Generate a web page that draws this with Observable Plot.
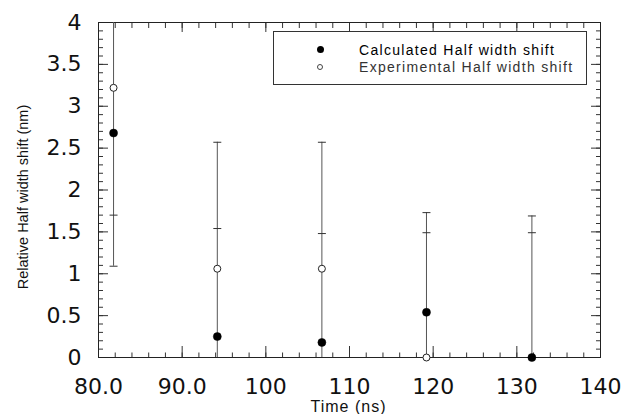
<!DOCTYPE html>
<html>
<head>
<meta charset="utf-8">
<script src="https://cdn.jsdelivr.net/npm/d3@7"></script>
<script src="https://cdn.jsdelivr.net/npm/@observablehq/plot@0.6"></script>
<style>
  body { margin: 0; background: #fff; }
  #wrap { position: relative; width: 633px; height: 414px; }
  #wrap svg { position: absolute; left: 0; top: 0; overflow: visible; }
  .legend { position: absolute; left: 273px; top: 31px; width: 312px; height: 52px;
            border: 1px solid #333; background: #fff;
            font-family: "Liberation Sans", Arial, sans-serif; font-size: 14px; letter-spacing: 1.3px; }
  .row { position: absolute; left: 85px; height: 16px; line-height: 16px; white-space: nowrap; }
  .sym { position: absolute; box-sizing: border-box; border-radius: 50%; }
</style>
</head>
<body>
<div id="wrap"></div>
<script>
// ---- data ----
const times        = [81.8, 94.2, 106.7, 119.2, 131.8];
const calculated   = [2.68, 0.25, 0.18, 0.54, 0.0];
const experimental = [3.22, 1.06, 1.06, 0.0, null];
const errLow       = [1.09, 0, 0, 0, 0];
const errHigh      = [4.5, 2.57, 2.57, 1.73, 1.69];
const errMid       = [1.70, 1.54, 1.48, 1.49, 1.49];

const xTicks      = [80, 90, 100, 110, 120, 130, 140];
const xTickLabels = ["80.0", "90.0", "100", "110", "120", "130", "140"];
const yTicks      = [0, 0.5, 1, 1.5, 2, 2.5, 3, 3.5, 4];
const yTickLabels = ["0", "0.5", "1", "1.5", "2", "2.5", "3", "3.5", "4"];
const xMinorTicks = d3.range(80, 141, 2);
const yMinorTicks = d3.range(0, 41).map(i => i / 10);

const seriesNames = ["Calculated Half width shift", "Experimental Half width shift"];
const xLabel = "Time (ns)";
const yLabel = "Relative Half width shift (nm)";

// ---- table built from arrays ----
const rows = times.map((t, i) => ({
  t, calc: calculated[i], exp: experimental[i], lo: errLow[i], hi: errHigh[i], mid: errMid[i]
}));
const expRows = rows.filter(d => d.exp != null);

const capSymbol = {
  draw(context, size) {
    const w = Math.sqrt(size);
    context.moveTo(-w / 2, 0);
    context.lineTo(w / 2, 0);
  }
};

const tickColor = "#333";
const ff = "Liberation Sans, Arial, sans-serif";

const chart = Plot.plot({
  width: 633,
  height: 414,
  marginLeft: 98,
  marginRight: 33,
  marginTop: 22,
  marginBottom: 57,
  style: { background: "transparent" },
  x: { domain: [80, 140] },
  y: { domain: [0, 4] },
  marks: [
    // minor & major ticks pointing inward on all four sides
    Plot.axisX(xMinorTicks, { anchor: "bottom", tickSize: -4.5, fill: "none", stroke: tickColor, label: null }),
    Plot.axisX(xTicks, { anchor: "bottom", tickSize: -11, fill: "none", stroke: tickColor, label: null }),
    Plot.axisX(xMinorTicks, { anchor: "top", tickSize: -5, fill: "none", stroke: tickColor, label: null }),
    Plot.axisX(xTicks, { anchor: "top", tickSize: -9, fill: "none", stroke: tickColor, label: null }),
    Plot.axisY(yMinorTicks, { anchor: "left", tickSize: -5, fill: "none", stroke: tickColor, label: null }),
    Plot.axisY(yTicks, { anchor: "left", tickSize: -10, fill: "none", stroke: tickColor, label: null }),
    Plot.axisY(yMinorTicks, { anchor: "right", tickSize: -5, fill: "none", stroke: tickColor, label: null }),
    Plot.axisY(yTicks, { anchor: "right", tickSize: -10, fill: "none", stroke: tickColor, label: null }),
    // tick labels
    Plot.axisX(xTicks, { anchor: "bottom", tickSize: 0, tickPadding: 21, fontSize: 22, fontFamily: "DejaVu Sans",
      tickFormat: d => xTickLabels[xTicks.indexOf(d)], label: null, fill: "#111" }),
    Plot.axisY(yTicks, { anchor: "left", tickSize: 0, tickPadding: 17, fontSize: 22, fontFamily: "DejaVu Sans",
      tickFormat: d => yTickLabels[yTicks.indexOf(d)], label: null, fill: "#111" }),
    Plot.frame({ stroke: "#222", strokeWidth: 1 }),
    // axis titles
    Plot.text([xLabel], { frameAnchor: "bottom", textAnchor: "middle", lineAnchor: "middle", dx: -1, dy: 49,
      fontSize: 16, fontFamily: ff, fill: "#111" }),
    Plot.text([yLabel], { frameAnchor: "left", textAnchor: "middle", lineAnchor: "middle", dx: -75, dy: 7, rotate: -90,
      fontSize: 14.5, fontFamily: ff, fill: "#111" }),
    // error bars
    Plot.ruleX(rows, { x: "t", y1: "lo", y2: "hi", stroke: "#555", strokeWidth: 1, clip: true }),
    Plot.dot(rows, { x: "t", y: "hi", symbol: capSymbol, r: 4.5, stroke: "#333", fill: "none", strokeWidth: 1, clip: true }),
    Plot.dot(rows.filter(d => d.lo > 0), { x: "t", y: "lo", symbol: capSymbol, r: 4.5, stroke: "#333", fill: "none", strokeWidth: 1 }),
    Plot.dot(rows, { x: "t", y: "mid", symbol: capSymbol, r: 4.5, stroke: "#333", fill: "none", strokeWidth: 1 }),
    // data points
    Plot.dot(expRows, { x: "t", y: "exp", r: 3.5, fill: "#fff", stroke: "#222", strokeWidth: 1 }),
    Plot.dot(rows, { x: "t", y: "calc", r: 4, fill: "#000", stroke: "#000", strokeWidth: 0.5 })
  ]
});

// slight letter spacing on the x title, like the reference
d3.select(chart).selectAll("text").filter(function () { return this.textContent === xLabel; })
  .attr("letter-spacing", "1px");

const wrap = document.getElementById("wrap");
wrap.appendChild(chart);

// legend box
const legend = document.createElement("div");
legend.className = "legend";
legend.innerHTML = `
  <span class="sym" style="left:42.5px;top:13.8px;width:7px;height:7px;background:#000"></span>
  <span class="row" style="top:10px;color:#000">${seriesNames[0]}</span>
  <span class="sym" style="left:43px;top:32.3px;width:6px;height:6px;border:1px solid #444;background:#fff"></span>
  <span class="row" style="top:27px;color:#333">${seriesNames[1]}</span>`;
wrap.appendChild(legend);
</script>
</body>
</html>
